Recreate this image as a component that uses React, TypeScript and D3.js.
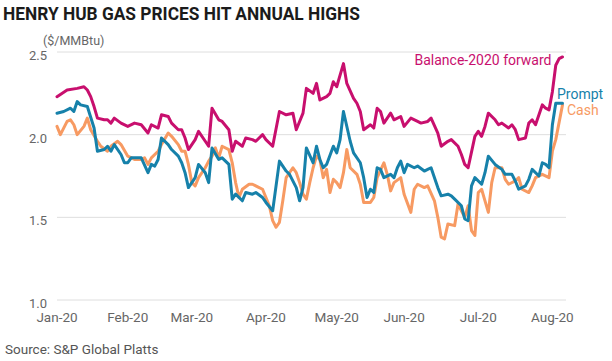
import React, { useEffect, useRef } from 'react';
import * as d3 from 'd3';

// trading-day index (0 = 2 Jan 2020) where each month label sits
const monthLabels = ['Jan-20', 'Feb-20', 'Mar-20', 'Apr-20', 'May-20', 'Jun-20', 'Jul-20', 'Aug-20'];
const monthStarts = [0, 21, 40, 62, 83, 103, 125, 147];
const yTicks = [1.0, 1.5, 2.0, 2.5];

// [trading day, $/MMBtu]
const balance: [number, number][] = [
  [0, 2.23], [3, 2.27], [6, 2.28], [8, 2.29], [9, 2.27], [10, 2.23], [11, 2.17], [12, 2.10], [14, 2.09], [15, 2.09],
  [16, 2.07], [17, 2.10], [19, 2.07], [21, 2.05], [23, 2.07], [25, 2.06], [27, 2.01], [28, 2.06], [30, 2.04], [31, 2.12],
  [33, 2.11], [34, 2.07], [36, 2.03], [37, 2.03], [38, 1.98], [39, 1.91], [41, 1.97], [42, 2.02], [44, 1.96], [45, 1.93],
  [46, 2.16], [48, 2.09], [49, 2.08], [51, 2.03], [52, 1.90], [53, 1.96], [55, 1.93], [56, 1.98], [58, 1.97], [59, 1.96],
  [61, 2.00], [62, 1.97], [64, 1.93], [66, 2.14], [68, 2.12], [70, 2.13], [71, 2.03], [73, 2.13], [74, 2.28], [76, 2.25],
  [77, 2.31], [78, 2.21], [80, 2.23], [81, 2.25], [82, 2.32], [83, 2.29], [85, 2.43], [86, 2.31], [88, 2.22], [89, 2.19],
  [90, 2.14], [91, 2.03], [93, 2.06], [94, 2.04], [95, 2.16], [96, 2.14], [97, 2.07], [99, 2.13], [100, 2.09], [102, 2.11],
  [103, 2.05], [105, 2.10], [107, 2.08], [108, 2.07], [110, 2.08], [111, 2.10], [113, 2.01], [114, 1.93], [116, 1.96], [117, 1.97],
  [119, 1.93], [120, 1.88], [121, 1.82], [122, 1.80], [124, 1.99], [125, 2.02], [126, 1.99], [127, 2.05], [128, 2.13], [130, 2.09],
  [131, 2.06], [132, 2.07], [134, 2.04], [135, 2.06], [136, 2.03], [137, 1.97], [139, 1.98], [140, 2.07], [141, 2.09], [142, 2.06],
  [144, 2.18], [145, 2.16], [146, 2.15], [147, 2.26], [148, 2.42], [149, 2.46], [150, 2.47],
];

const prompt: [number, number][] = [
  [0, 2.13], [2, 2.14], [4, 2.16], [5, 2.14], [6, 2.20], [7, 2.18], [9, 2.17], [11, 2.04], [12, 1.90], [14, 1.91],
  [15, 1.93], [16, 1.90], [17, 1.94], [19, 1.88], [20, 1.83], [21, 1.83], [22, 1.86], [24, 1.86], [25, 1.86], [27, 1.77],
  [28, 1.82], [29, 1.81], [30, 1.85], [31, 1.98], [33, 1.94], [34, 1.91], [36, 1.87], [37, 1.83], [38, 1.77], [39, 1.68],
  [41, 1.74], [42, 1.82], [44, 1.77], [45, 1.71], [46, 1.92], [48, 1.85], [49, 1.86], [51, 1.82], [52, 1.61], [53, 1.64],
  [55, 1.60], [56, 1.65], [58, 1.64], [59, 1.65], [61, 1.62], [62, 1.59], [64, 1.54], [66, 1.84], [68, 1.78], [69, 1.76],
  [71, 1.68], [72, 1.60], [73, 1.68], [74, 1.92], [76, 1.83], [77, 1.93], [78, 1.85], [79, 1.80], [80, 1.82], [82, 1.93],
  [83, 1.89], [84, 1.97], [85, 2.14], [87, 1.96], [88, 1.89], [90, 1.83], [91, 1.74], [92, 1.62], [93, 1.67], [94, 1.65],
  [95, 1.80], [96, 1.79], [97, 1.74], [99, 1.76], [100, 1.74], [101, 1.80], [102, 1.84], [103, 1.77], [104, 1.82], [106, 1.80],
  [107, 1.81], [109, 1.78], [110, 1.79], [111, 1.80], [113, 1.68], [114, 1.63], [116, 1.64], [117, 1.63], [118, 1.61], [120, 1.57],
  [121, 1.49], [122, 1.48], [123, 1.69], [124, 1.74], [126, 1.70], [127, 1.77], [128, 1.87], [130, 1.82], [132, 1.79], [133, 1.76],
  [135, 1.76], [136, 1.72], [137, 1.67], [139, 1.69], [140, 1.73], [141, 1.79], [143, 1.75], [144, 1.83], [145, 1.82], [146, 1.80],
  [147, 2.06], [148, 2.19], [150, 2.19],
];

const cash: [number, number][] = [
  [0, 2.05], [1, 2.00], [3, 2.08], [4, 2.09], [5, 2.06], [6, 2.00], [8, 2.05], [9, 2.10], [10, 2.03], [12, 1.96],
  [13, 1.93], [15, 1.90], [16, 1.93], [18, 1.96], [19, 1.94], [21, 1.87], [23, 1.85], [25, 1.85], [26, 1.86], [27, 1.82],
  [28, 1.86], [30, 1.90], [31, 1.94], [33, 2.01], [34, 1.99], [36, 1.94], [37, 1.90], [38, 1.90], [39, 1.82], [40, 1.71],
  [41, 1.69], [42, 1.74], [44, 1.80], [45, 1.84], [46, 1.87], [47, 1.92], [48, 1.86], [49, 1.93], [51, 1.91], [52, 1.83],
  [53, 1.71], [54, 1.62], [55, 1.67], [57, 1.70], [58, 1.70], [60, 1.68], [61, 1.67], [63, 1.57], [64, 1.48], [65, 1.44],
  [66, 1.47], [67, 1.60], [68, 1.74], [70, 1.80], [71, 1.77], [72, 1.71], [73, 1.64], [74, 1.61], [75, 1.71], [76, 1.80],
  [77, 1.87], [78, 1.85], [79, 1.74], [80, 1.79], [81, 1.65], [82, 1.73], [83, 1.71], [84, 1.68], [85, 1.77], [86, 1.91],
  [87, 1.80], [89, 1.76], [90, 1.70], [91, 1.59], [93, 1.59], [94, 1.62], [95, 1.74], [97, 1.83], [98, 1.76], [99, 1.66],
  [100, 1.71], [102, 1.74], [103, 1.64], [105, 1.53], [106, 1.67], [107, 1.70], [109, 1.68], [110, 1.69], [112, 1.60], [113, 1.50],
  [114, 1.38], [115, 1.37], [116, 1.46], [118, 1.45], [119, 1.58], [120, 1.54], [121, 1.50], [122, 1.57], [123, 1.42], [124, 1.39],
  [125, 1.65], [126, 1.67], [127, 1.60], [128, 1.53], [129, 1.71], [130, 1.80], [132, 1.80], [133, 1.73], [134, 1.70], [136, 1.72],
  [137, 1.74], [138, 1.67], [140, 1.65], [141, 1.69], [142, 1.74], [144, 1.76], [146, 1.74], [147, 1.90], [148, 1.97], [150, 2.18],
];

const MAGENTA = '#c80f6e';
const BLUE = '#1681aa';
const ORANGE = '#f79a62';

const App: React.FC = () => {
  const svgRef = useRef<SVGSVGElement>(null);

  useEffect(() => {
    if (!svgRef.current) return;
    const svg = d3.select(svgRef.current);
    svg.selectAll('*').remove();
    const font = 'Roboto, "DejaVu Sans", sans-serif';

    const x = d3.scaleLinear().domain([0, 150]).range([57, 562.5]);
    const y = d3.scaleLinear().domain([1, 2.5]).range([300, 52]);

    // title
    svg.append('text')
      .attr('x', 3).attr('y', 20)
      .attr('font-family', font).attr('font-weight', 700).attr('font-size', 18.5)
      .attr('fill', '#1b1b1b')
      .attr('textLength', 357).attr('lengthAdjust', 'spacingAndGlyphs')
      .text('HENRY HUB GAS PRICES HIT ANNUAL HIGHS');

    svg.append('text')
      .attr('x', 43).attr('y', 45)
      .attr('font-family', font).attr('font-size', 12.5).attr('fill', '#666')
      .text('($/MMBtu)');

    // gridlines + y labels
    yTicks.forEach(t => {
      svg.append('line')
        .attr('x1', 57).attr('x2', 566)
        .attr('y1', y(t)).attr('y2', y(t))
        .attr('stroke', '#dedede').attr('stroke-width', 1);
      svg.append('text')
        .attr('x', 47).attr('y', y(t) + 8)
        .attr('text-anchor', 'end')
        .attr('font-family', font).attr('font-size', 13).attr('fill', '#666')
        .text(d3.format('.1f')(t));
    });

    // month labels
    monthLabels.forEach((m, i) => {
      svg.append('text')
        .attr('x', x(monthStarts[i])).attr('y', 322)
        .attr('text-anchor', 'middle')
        .attr('font-family', font).attr('font-size', 13.5).attr('fill', '#666')
        .text(m);
    });

    const line = d3.line<[number, number]>()
      .x(d => x(d[0]))
      .y(d => y(d[1]))
      .curve(d3.curveLinear);

    const series = [
      { data: cash, color: ORANGE },
      { data: prompt, color: BLUE },
      { data: balance, color: MAGENTA },
    ];
    series.forEach(s => {
      svg.append('path')
        .datum(s.data)
        .attr('fill', 'none')
        .attr('stroke', s.color)
        .attr('stroke-width', 3)
        .attr('stroke-linejoin', 'round')
        .attr('stroke-linecap', 'round')
        .attr('d', line);
    });

    // end labels
    const last = (d: [number, number][]) => d[d.length - 1];
    const lb = last(balance), lp = last(prompt), lc = last(cash);
    svg.append('text')
      .attr('x', x(lb[0]) - 11).attr('y', y(lb[1]) + 8.5)
      .attr('text-anchor', 'end')
      .attr('font-family', font).attr('font-size', 14).attr('fill', MAGENTA)
      .text('Balance-2020 forward');
    svg.append('text')
      .attr('x', x(lp[0]) - 5.5).attr('y', y(lp[1]) - 4.5)
      .attr('font-family', font).attr('font-size', 14).attr('fill', BLUE)
      .text('Prompt');
    svg.append('text')
      .attr('x', x(lc[0]) + 4.5).attr('y', y(lc[1]) + 10)
      .attr('font-family', font).attr('font-size', 14).attr('fill', ORANGE)
      .text('Cash');

    svg.append('text')
      .attr('x', 5).attr('y', 354)
      .attr('font-family', font).attr('font-size', 13.5).attr('fill', '#555')
      .text('Source: S&P Global Platts');
  }, []);

  return (
    <svg
      ref={svgRef}
      width={612}
      height={361}
      style={{ position: 'absolute', left: 0, top: 0, background: '#fff' }}
    />
  );
};

export default App;
